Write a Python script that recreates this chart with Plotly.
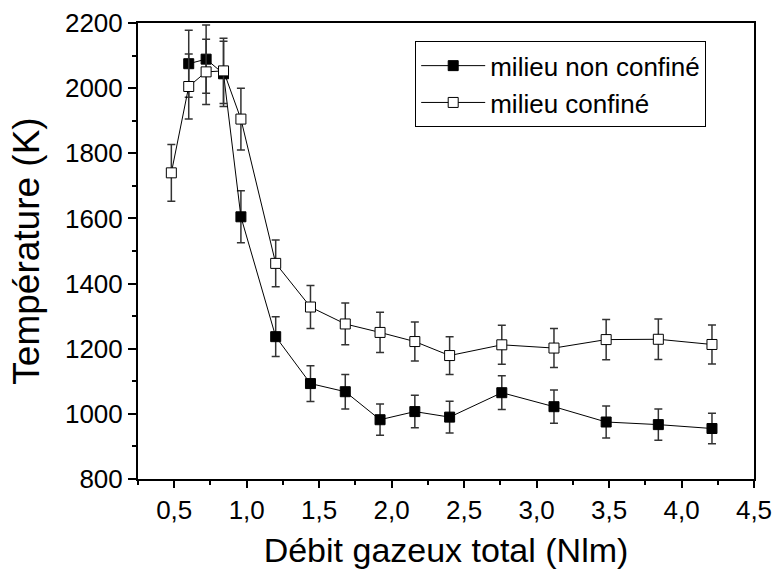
import plotly.graph_objects as go

# Non-confined medium (filled squares)
x_non = [0.60, 0.72, 0.84, 0.96, 1.20, 1.44, 1.68, 1.92, 2.16, 2.40, 2.76, 3.12, 3.48, 3.84, 4.21]
t_non = [2075, 2089, 2044, 1605, 1237, 1093, 1068, 982, 1007, 990, 1065, 1022, 975, 967, 955]
e_non = [103, 105, 100, 80, 61, 55, 53, 48, 50, 49, 52, 51, 49, 48, 47]

# Confined medium (open squares)
x_con = [0.48, 0.60, 0.72, 0.84, 0.96, 1.20, 1.44, 1.68, 1.92, 2.16, 2.40, 2.76, 3.12, 3.48, 3.84, 4.21]
t_con = [1740, 2005, 2050, 2053, 1905, 1462, 1328, 1276, 1250, 1222, 1179, 1212, 1202, 1228, 1229, 1213]
e_con = [87, 100, 100, 100, 95, 72, 66, 64, 62, 60, 58, 60, 60, 62, 62, 60]

x_ticks = [0.5, 1.0, 1.5, 2.0, 2.5, 3.0, 3.5, 4.0, 4.5]
x_ticklabels = ["0,5", "1,0", "1,5", "2,0", "2,5", "3,0", "3,5", "4,0", "4,5"]
y_ticks = [800, 1000, 1200, 1400, 1600, 1800, 2000, 2200]

FONT = "Liberation Sans, Arial, Helvetica, sans-serif"

fig = go.Figure()
fig.add_trace(go.Scatter(
    x=x_non, y=t_non, mode="lines+markers", name="milieu non confiné",
    line=dict(color="black", width=1),
    marker=dict(symbol="square", size=10, color="black", line=dict(color="black", width=1)),
    error_y=dict(type="data", array=e_non, visible=True, color="#333333", thickness=1.5, width=4),
))
fig.add_trace(go.Scatter(
    x=x_con, y=t_con, mode="lines+markers", name="milieu confiné",
    line=dict(color="black", width=1),
    marker=dict(symbol="square", size=10, color="white", line=dict(color="black", width=1)),
    error_y=dict(type="data", array=e_con, visible=True, color="#333333", thickness=1.5, width=4),
))

fig.update_layout(
    width=776, height=575,
    margin=dict(l=138, r=22, t=23, b=96),
    paper_bgcolor="white", plot_bgcolor="white",
    font=dict(family=FONT, color="black"),
    showlegend=True,
    legend=dict(
        x=0.45, y=0.96, xanchor="left", yanchor="top",
        bordercolor="black", borderwidth=1, bgcolor="white",
        font=dict(size=26, family=FONT), itemwidth=64,
        tracegroupgap=0,
    ),
)
fig.update_xaxes(
    range=[0.25, 4.5], tickvals=x_ticks, ticktext=x_ticklabels,
    showgrid=False, zeroline=False, automargin=False,
    showline=True, linecolor="black", linewidth=2, mirror=True,
    ticks="outside", ticklen=7, tickwidth=1.5, tickcolor="black",
    minor=dict(dtick=0.25, tick0=0.25, ticks="outside", ticklen=4, tickcolor="black", tickwidth=1.5),
    tickfont=dict(size=26),
    title=dict(text="Débit gazeux total (Nlm)", font=dict(size=34), standoff=14),
)
fig.update_yaxes(
    range=[800, 2200], tickvals=y_ticks,
    showgrid=False, zeroline=False, automargin=False,
    showline=True, linecolor="black", linewidth=2, mirror=True,
    ticks="outside", ticklen=8, tickwidth=1.5, tickcolor="black",
    minor=dict(dtick=100, tick0=800, ticks="outside", ticklen=4, tickcolor="black", tickwidth=1.5),
    tickfont=dict(size=26),
    title=dict(text="Température (K)", font=dict(size=37), standoff=14),
)

fig.write_html("out.html", config={"displayModeBar": False},
               post_script="document.body.style.margin='0';")
